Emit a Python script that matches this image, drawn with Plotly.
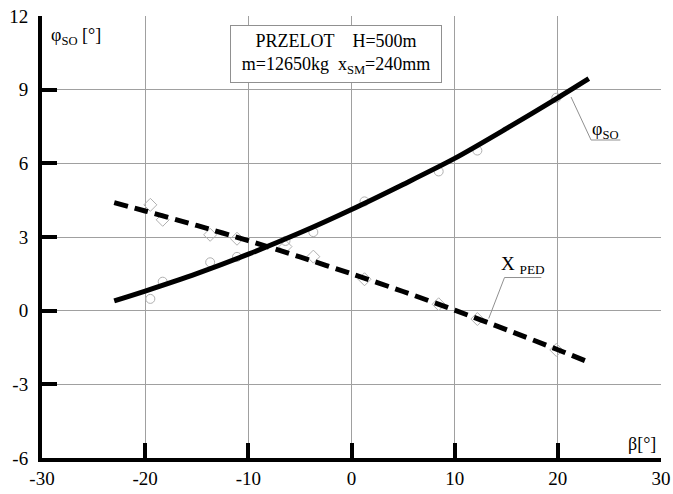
import plotly.graph_objects as go

# Fitted curves
curve_beta = [-23, -20, -15, -10, -5, 0, 5, 10, 15, 20, 23]
phi_so_curve = [0.40, 0.80, 1.51, 2.30, 3.17, 4.12, 5.14, 6.20, 7.41, 8.67, 9.45]
x_ped_curve = [4.40, 4.06, 3.47, 2.85, 2.19, 1.50, 0.78, 0.02, -0.77, -1.59, -2.10]

# Measured points
meas_beta = [-19.5, -18.3, -13.7, -11.1, -6.4, -3.7, 1.26, 8.45, 12.2, 19.85]
phi_so_meas = [0.48, 1.18, 1.97, 2.19, 2.84, 3.20, 4.45, 5.67, 6.52, 8.67]
x_ped_meas = [4.31, 3.70, 3.09, 2.93, 2.61, 2.20, 1.28, 0.26, -0.34, -1.60]

x_ticks = [-30, -20, -10, 0, 10, 20, 30]
y_ticks = [-6, -3, 0, 3, 6, 9, 12]

# label leader lines
phi_leader_x = [21.28, 23.22, 26.06]
phi_leader_y = [8.70, 6.95, 6.95]
ped_leader_x = [13.3, 14.83, 18.4]
ped_leader_y = [-0.32, 1.35, 1.35]

FONT = "Liberation Serif"
GRID = "#a0a0a0"

fig = go.Figure()

fig.add_trace(go.Scatter(x=meas_beta, y=phi_so_meas, mode="markers",
                         marker=dict(symbol="circle-open", size=9, color="#b0b0b0",
                                     line=dict(width=1)), showlegend=False))
fig.add_trace(go.Scatter(x=meas_beta, y=x_ped_meas, mode="markers",
                         marker=dict(symbol="diamond-open", size=10, color="#b0b0b0",
                                     line=dict(width=1)), showlegend=False))
fig.add_trace(go.Scatter(x=phi_leader_x, y=phi_leader_y, mode="lines",
                         line=dict(color="#909090", width=1), showlegend=False))
fig.add_trace(go.Scatter(x=ped_leader_x, y=ped_leader_y, mode="lines",
                         line=dict(color="#909090", width=1), showlegend=False))
fig.add_trace(go.Scatter(x=curve_beta, y=phi_so_curve, mode="lines",
                         line=dict(color="black", width=5, shape="spline", smoothing=0.8),
                         showlegend=False))
fig.add_trace(go.Scatter(x=curve_beta, y=x_ped_curve, mode="lines",
                         line=dict(color="black", width=5, shape="spline", smoothing=0.8,
                                   dash="14px,7px"),
                         showlegend=False))

axis_common = dict(showgrid=True, gridcolor=GRID, gridwidth=1, zeroline=False,
                   showline=True, linecolor="black", linewidth=4, mirror=False,
                   ticks="inside", ticklen=15, tickwidth=4, tickcolor="black",
                   automargin=False,
                   tickfont=dict(family=FONT, size=19, color="black"))

fig.update_layout(
    width=673, height=494,
    margin=dict(l=42, r=12, t=16, b=36),
    paper_bgcolor="white", plot_bgcolor="white",
    font=dict(family=FONT, size=18, color="black"),
    xaxis=dict(range=[-30, 30], tickvals=x_ticks, ticktext=[str(v) for v in x_ticks],
               **axis_common),
    yaxis=dict(range=[-6, 12], tickvals=y_ticks, ticktext=[str(v) for v in y_ticks],
               ticklabelstandoff=6, **axis_common),
)

fig.add_annotation(x=-1.55, y=10.45, xref="x", yref="y",
                   text="PRZELOT\u00a0\u00a0\u00a0\u00a0H=500m<br>m=12650kg\u00a0\u00a0x<sub>SM</sub>=240mm",
                   showarrow=False, bgcolor="white", bordercolor="#909090", borderwidth=1,
                   width=208, height=54, align="center",
                   font=dict(family=FONT, size=18, color="black"))
fig.add_annotation(x=0.012, y=0.985, xref="paper", yref="paper", xanchor="left", yanchor="top",
                   text="φ<sub>SO</sub> [°]", showarrow=False,
                   font=dict(family=FONT, size=18, color="black"))
fig.add_annotation(x=0.995, y=0.0, xref="paper", yref="paper", xanchor="right", yanchor="bottom",
                   yshift=2, text="β[°]", showarrow=False,
                   font=dict(family=FONT, size=18, color="black"))
fig.add_annotation(x=24.6, y=7.35, xref="x", yref="y", text="φ<sub>SO</sub>", showarrow=False,
                   font=dict(family=FONT, size=18, color="black"))
fig.add_annotation(x=16.6, y=1.85, xref="x", yref="y", text="X\u00a0<sub>PED</sub>", showarrow=False,
                   font=dict(family=FONT, size=19, color="black"))

fig.write_html("out.html", config={"displayModeBar": False},
               post_script="document.body.style.margin='0';")
